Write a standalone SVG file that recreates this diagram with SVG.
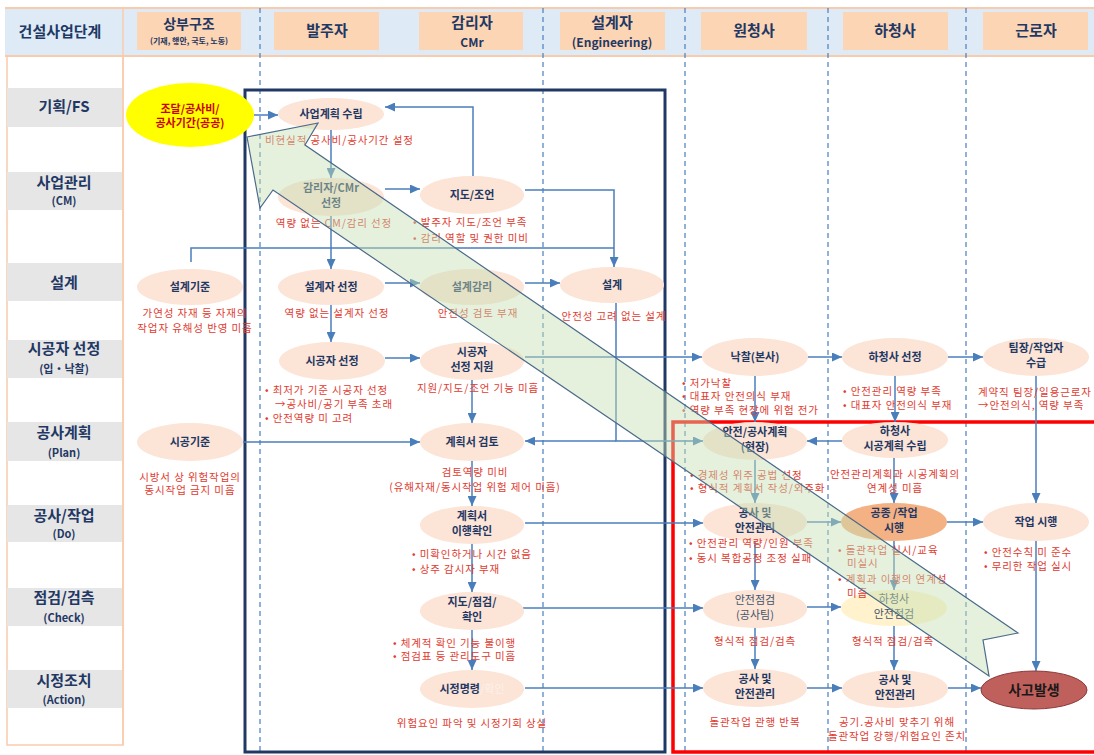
<svg xmlns="http://www.w3.org/2000/svg" width="1094" height="755" viewBox="0 0 1094 755">
<defs>
<marker id="ah" markerUnits="userSpaceOnUse" markerWidth="11" markerHeight="9" refX="10" refY="4.5" orient="auto"><path d="M0,0 L10,4.5 L0,9 z" fill="#4a7ebb"/></marker>
<style>
text{font-family:"Noto Sans CJK KR","Noto Sans",sans-serif}
.hdr{fill:#fcd5b4}
.lbl{fill:#e7e6e6}
.ht{font-size:15px;font-weight:bold;fill:#1f3864;text-anchor:middle}
.hs{font-size:12px;font-weight:bold;fill:#1f3864;text-anchor:middle}
.node{fill:#fce4d6}
.nt{font-size:11px;font-weight:bold;fill:#1f3864;text-anchor:middle}
.ng{font-size:11px;fill:#44546a;text-anchor:middle}
.rt{font-size:10.5px;fill:#e03c31;letter-spacing:0.9px}
.rc{font-size:10.5px;fill:#e03c31;letter-spacing:0.9px;text-anchor:middle}
.c{stroke:#4a7ebb;stroke-width:1.5;fill:none;marker-end:url(#ah)}
.cl{stroke:#4a7ebb;stroke-width:1.5;fill:none}
.dash{stroke:#4a7ebb;stroke-width:1.2;stroke-dasharray:5 4}
</style>
</defs>
<rect width="1094" height="755" fill="#ffffff"/>
<g id="header">
<rect x="5" y="8" width="1089" height="48" fill="#deebf7"/>
<line x1="5" y1="8" x2="1094" y2="8" stroke="#f8cbad" stroke-width="2"/>
<line x1="5" y1="56" x2="1094" y2="56" stroke="#f8cbad" stroke-width="2"/>
<text class="ht" x="60" y="37">건설사업단계</text>
<rect class="hdr" x="137" y="12" width="104" height="38"/>
<text class="ht" x="189" y="29" style="font-size:14px">상부구조</text>
<text x="189" y="44" style="font-size:8px;font-weight:bold;fill:#1f3864;text-anchor:middle">(기재, 행안, 국토, 노동)</text>
<rect class="hdr" x="274" y="12" width="105" height="38"/>
<text class="ht" x="327" y="36">발주자</text>
<rect class="hdr" x="419" y="12" width="104" height="38"/>
<text class="ht" x="472" y="28">감리자</text>
<text class="hs" x="472" y="47">CMr</text>
<rect class="hdr" x="560" y="12" width="105" height="38"/>
<text class="ht" x="612" y="28">설계자</text>
<text class="hs" x="612" y="47">(Engineering)</text>
<rect class="hdr" x="701" y="12" width="106" height="38"/>
<text class="ht" x="754" y="36">원청사</text>
<rect class="hdr" x="843" y="12" width="105" height="38"/>
<text class="ht" x="895" y="36">하청사</text>
<rect class="hdr" x="983" y="12" width="105" height="38"/>
<text class="ht" x="1036" y="36">근로자</text>
</g>
<g id="stages">
<rect x="7" y="56" width="116" height="689" fill="none" stroke="#f8cbad" stroke-width="1.5"/>
<line x1="123" y1="8" x2="123" y2="745" stroke="#f8cbad" stroke-width="1.5"/>
<rect class="lbl" x="7" y="88" width="115" height="39"/>
<text class="ht" x="64" y="112">기획/FS</text>
<rect class="lbl" x="7" y="172" width="115" height="38"/>
<text class="ht" x="64" y="188">사업관리</text>
<text class="hs" x="64" y="205" style="font-size:11px">(CM)</text>
<rect class="lbl" x="7" y="263" width="115" height="38"/>
<text class="ht" x="64" y="288">설계</text>
<rect class="lbl" x="7" y="340" width="115" height="38"/>
<text class="ht" x="64" y="354">시공자 선정</text>
<text class="hs" x="64" y="373" style="font-size:11px">(입・낙찰)</text>
<rect class="lbl" x="7" y="422" width="115" height="39"/>
<text class="ht" x="64" y="438">공사계획</text>
<text class="hs" x="64" y="457" style="font-size:11px">(Plan)</text>
<rect class="lbl" x="7" y="505" width="115" height="37"/>
<text class="ht" x="64" y="521">공사/작업</text>
<text class="hs" x="64" y="538" style="font-size:11px">(Do)</text>
<rect class="lbl" x="7" y="588" width="115" height="38"/>
<text class="ht" x="64" y="603">점검/검측</text>
<text class="hs" x="64" y="622" style="font-size:11px">(Check)</text>
<rect class="lbl" x="7" y="670" width="115" height="38"/>
<text class="ht" x="64" y="686">시정조치</text>
<text class="hs" x="64" y="704" style="font-size:11px">(Action)</text>
</g>
<g id="lanes">
<line class="dash" x1="260" y1="8" x2="260" y2="755"/>
<line class="dash" x1="543" y1="8" x2="543" y2="755"/>
<line class="dash" x1="685" y1="8" x2="685" y2="755"/>
<line class="dash" x1="828" y1="8" x2="828" y2="755"/>
<line class="dash" x1="966" y1="8" x2="966" y2="755"/>
</g>
<g id="frames">
<rect x="245" y="90" width="420" height="662" fill="none" stroke="#1f3864" stroke-width="3"/>
<rect x="673" y="422" width="430" height="330" fill="none" stroke="#ff0000" stroke-width="3.5"/>
</g>
<g id="connectors">
<path class="c" d="M254,115 H278"/>
<path class="c" d="M331,130 V178"/>
<path class="c" d="M385,189 H420"/>
<path class="c" d="M473,176 V107 H385"/>
<path class="c" d="M525,190 H614 V267"/>
<path class="cl" d="M191,262 V248 H614"/>
<path class="c" d="M331,216 V269"/>
<path class="c" d="M385,283 H420"/>
<path class="c" d="M525,283 H560"/>
<path class="c" d="M331,305 V342"/>
<path class="c" d="M385,358 H420"/>
<path class="c" d="M525,357 H702"/>
<path class="c" d="M472,380 V423"/>
<path class="c" d="M616,303 V441 H703"/>
<path class="c" d="M243,442 H420"/>
<path class="c" d="M616,441 H525"/>
<path class="c" d="M472,461 V506"/>
<path class="c" d="M525,523 H703"/>
<path class="c" d="M472,544 V592"/>
<path class="c" d="M522,608 H703"/>
<path class="c" d="M472,630 V670"/>
<path class="c" d="M525,688 H703"/>
<path class="c" d="M808,357 H842"/>
<path class="c" d="M948,357 H983"/>
<path class="c" d="M755,376 V422"/>
<path class="c" d="M895,376 V422"/>
<path class="c" d="M842,441 H807"/>
<path class="c" d="M894,458 V503"/>
<path class="c" d="M1036,376 V503"/>
<path class="c" d="M755,460 V503"/>
<path class="c" d="M807,522 H841"/>
<path class="c" d="M947,522 H983"/>
<path class="c" d="M755,541 V590"/>
<path class="c" d="M894,541 V590"/>
<path class="c" d="M807,607 H841"/>
<path class="c" d="M755,628 V669"/>
<path class="c" d="M894,626 V670"/>
<path class="c" d="M807,688 H842"/>
<path class="c" d="M948,688 H981"/>
<path class="c" d="M1036,541 V671"/>
</g>
<g id="n-yellow"><ellipse cx="190" cy="115" rx="64" ry="32" fill="#ffff00"/><text x="190" y="113" style="font-size:11px;font-weight:bold;fill:#cc0000;text-anchor:middle">조달/공사비/</text><text x="190" y="127" style="font-size:11px;font-weight:bold;fill:#cc0000;text-anchor:middle">공사기간(공공)</text></g>
<g id="n-plan"><ellipse class="node" cx="331" cy="114" rx="53" ry="16"/><text class="nt" x="331" y="118">사업계획 수립</text></g>
<g id="n-cmsel"><ellipse class="node" cx="331" cy="197" rx="53" ry="19"/><text class="nt" x="331" y="192">감리자/CMr</text><text class="nt" x="331" y="207">선정</text></g>
<g id="n-advice"><ellipse class="node" cx="472" cy="195" rx="52" ry="19"/><text class="nt" x="472" y="199">지도/조언</text></g>
<g id="n-dstd"><ellipse class="node" cx="190" cy="287" rx="53" ry="18"/><text class="nt" x="190" y="291">설계기준</text></g>
<g id="n-dsel"><ellipse class="node" cx="331" cy="287" rx="53" ry="18"/><text class="nt" x="331" y="291">설계자 선정</text></g>
<g id="n-dsup"><ellipse class="node" cx="472" cy="287" rx="52" ry="18"/><text class="nt" x="472" y="291">설계감리</text></g>
<g id="n-design"><ellipse class="node" cx="612" cy="285" rx="52" ry="18"/><text class="nt" x="612" y="289">설계</text></g>
<g id="n-csel"><ellipse class="node" cx="332" cy="361" rx="53" ry="19"/><text class="nt" x="332" y="365">시공자 선정</text></g>
<g id="n-cselsup"><ellipse class="node" cx="472" cy="361" rx="52" ry="19"/><text class="nt" x="472" y="356">시공자</text><text class="nt" x="472" y="371">선정 지원</text></g>
<g id="n-award"><ellipse class="node" cx="755" cy="357" rx="53" ry="19"/><text class="nt" x="755" y="361">낙찰(본사)</text></g>
<g id="n-subsel"><ellipse class="node" cx="895" cy="357" rx="53" ry="19"/><text class="nt" x="895" y="361">하청사 선정</text></g>
<g id="n-crew"><ellipse class="node" cx="1036" cy="357" rx="53" ry="19"/><text class="nt" x="1036" y="352">팀장/작업자</text><text class="nt" x="1036" y="367">수급</text></g>
<g id="n-cstd"><ellipse class="node" cx="190" cy="442" rx="53" ry="19"/><text class="nt" x="190" y="446">시공기준</text></g>
<g id="n-review"><ellipse class="node" cx="472" cy="442" rx="52" ry="19"/><text class="nt" x="472" y="446">계획서 검토</text></g>
<g id="n-sitepl"><ellipse class="node" cx="755" cy="441" rx="52" ry="19"/><text class="nt" x="755" y="436">안전/공사계획</text><text class="nt" x="755" y="451">(현장)</text></g>
<g id="n-subpl"><ellipse class="node" cx="895" cy="440" rx="53" ry="18"/><text class="nt" x="895" y="435">하청사</text><text class="nt" x="895" y="450">시공계획 수립</text></g>
<g id="n-verify"><ellipse class="node" cx="472" cy="525" rx="52" ry="19"/><text class="nt" x="472" y="520">계획서</text><text class="nt" x="472" y="535">이행확인</text></g>
<g id="n-gcwork"><ellipse class="node" cx="755" cy="522" rx="52" ry="19"/><text class="nt" x="755" y="517">공사 및</text><text class="nt" x="755" y="532">안전관리</text></g>
<g id="n-subwork"><ellipse cx="894" cy="522" rx="53" ry="19" fill="#f4b183"/><text class="nt" x="894" y="517">공종 /작업</text><text class="nt" x="894" y="532">시행</text></g>
<g id="n-work"><ellipse class="node" cx="1036" cy="522" rx="53" ry="19"/><text class="nt" x="1036" y="526">작업 시행</text></g>
<g id="n-inspect"><ellipse class="node" cx="472" cy="611" rx="52" ry="19"/><text class="nt" x="472" y="606">지도/점검/</text><text class="nt" x="472" y="621">확인</text></g>
<g id="n-gcinsp"><ellipse class="node" cx="755" cy="609" rx="52" ry="19"/><text class="ng" x="755" y="604">안전점검</text><text class="ng" x="755" y="619">(공사팀)</text></g>
<g id="n-subinsp"><ellipse cx="894" cy="608" rx="53" ry="18" fill="#fff2cc"/><text class="ng" x="894" y="603">하청사</text><text class="ng" x="894" y="618">안전점검</text></g>
<g id="n-order"><ellipse class="node" cx="472" cy="689" rx="52" ry="19"/><text class="nt" x="472" y="693">시정명령<tspan style="fill:#fdf1ea;font-weight:normal">/확인</tspan></text></g>
<g id="n-gcact"><ellipse class="node" cx="755" cy="688" rx="52" ry="19"/><text class="nt" x="755" y="683">공사 및</text><text class="nt" x="755" y="698">안전관리</text></g>
<g id="n-subact"><ellipse class="node" cx="895" cy="689" rx="53" ry="19"/><text class="nt" x="895" y="684">공사 및</text><text class="nt" x="895" y="699">안전관리</text></g>
<g id="n-accident"><ellipse cx="1034" cy="690" rx="53" ry="19" fill="#c0605c" stroke="#8a3a3a" stroke-width="1"/><text x="1034" y="695" style="font-size:14px;font-weight:bold;fill:#1a1a1a;text-anchor:middle">사고발생</text></g>
<g id="notes">
<text class="rt" x="265" y="144">비현실적 공사비/공사기간 설정</text>
<text class="rc" x="334" y="227">역량 없는 CM/감리 선정</text>
<text class="rt" x="413" y="226">• 발주자 지도/조언 부족</text>
<text class="rt" x="413" y="242">• 감리 역할 및 권한 미비</text>
<text class="rc" x="195" y="317">가연성 자재 등 자재의</text>
<text class="rc" x="195" y="332">작업자 유해성 반영 미흡</text>
<text class="rc" x="337" y="317">역량 없는 설계자 선정</text>
<text class="rc" x="478" y="317">안전성 검토 부재</text>
<text class="rc" x="614" y="320">안전성 고려 없는 설계</text>
<text class="rt" x="265" y="394">• 최저가 기준 시공자 선정</text>
<text class="rt" x="275" y="408">→공사비/공기 부족 초래</text>
<text class="rt" x="265" y="422">• 안전역량 미 고려</text>
<text class="rc" x="478" y="392">지원/지도/조언 기능 미흡</text>
<text class="rt" x="682" y="387">• 저가낙찰</text>
<text class="rt" x="682" y="400">• 대표자 안전의식 부재</text>
<text class="rt" x="682" y="414">• 역량 부족 현장에 위험 전가</text>
<text class="rt" x="843" y="395">• 안전관리 역량 부족</text>
<text class="rt" x="843" y="409">• 대표자 안전의식 부재</text>
<text class="rt" x="978" y="396">계약직 팀장/일용근로자</text>
<text class="rt" x="978" y="409">→안전의식, 역량 부족</text>
<text class="rc" x="190" y="481">시방서 상 위험작업의</text>
<text class="rc" x="190" y="494">동시작업 금지 미흡</text>
<text class="rc" x="475" y="476">검토역량 미비</text>
<text class="rc" x="475" y="491">(유해자재/동시작업 위험 제어 미흡)</text>
<text class="rt" x="690" y="479">• 경제성 위주 공법 선정</text>
<text class="rt" x="690" y="492">• 형식적 계획서 작성/외주화</text>
<text class="rc" x="895" y="478">안전관리계획과 시공계획의</text>
<text class="rc" x="895" y="492">연계성 미흡</text>
<text class="rt" x="412" y="558">• 미확인하거나 시간 없음</text>
<text class="rt" x="412" y="573">• 상주 감시자 부재</text>
<text class="rt" x="689" y="547">• 안전관리 역량/인원 부족</text>
<text class="rt" x="689" y="562">• 동시 복합공정 조정 실패</text>
<text class="rt" x="838" y="554">• 돌관작업 실시/교육</text>
<text class="rt" x="847" y="567">미실시</text>
<text class="rt" x="838" y="583">• 계획과 이행의 연계성</text>
<text class="rt" x="847" y="597">미흡</text>
<text class="rt" x="984" y="556">• 안전수칙 미 준수</text>
<text class="rt" x="984" y="570">• 무리한 작업 실시</text>
<text class="rt" x="393" y="647">• 체계적 확인 기능 불이행</text>
<text class="rt" x="393" y="660">• 점검표 등 관리도구 미흡</text>
<text class="rc" x="755" y="645">형식적 점검/검측</text>
<text class="rc" x="893" y="645">형식적 점검/검측</text>
<text class="rc" x="472" y="727">위험요인 파악 및 시정기회 상실</text>
<text class="rc" x="755" y="726">돌관작업 관행 반복</text>
<text class="rc" x="897" y="726">공기.공사비 맞추기 위해</text>
<text class="rc" x="897" y="740">돌관작업 강행/위험요인 존치</text>
</g>
<g id="big-arrow">
<polygon points="247,137 318,123 305,145 1018,633 983,640 989,676 273,190 260,208" fill="#c5e0b4" fill-opacity="0.45" stroke="#4a6a8a" stroke-width="1.2" stroke-linejoin="miter"/>
</g>
</svg>
